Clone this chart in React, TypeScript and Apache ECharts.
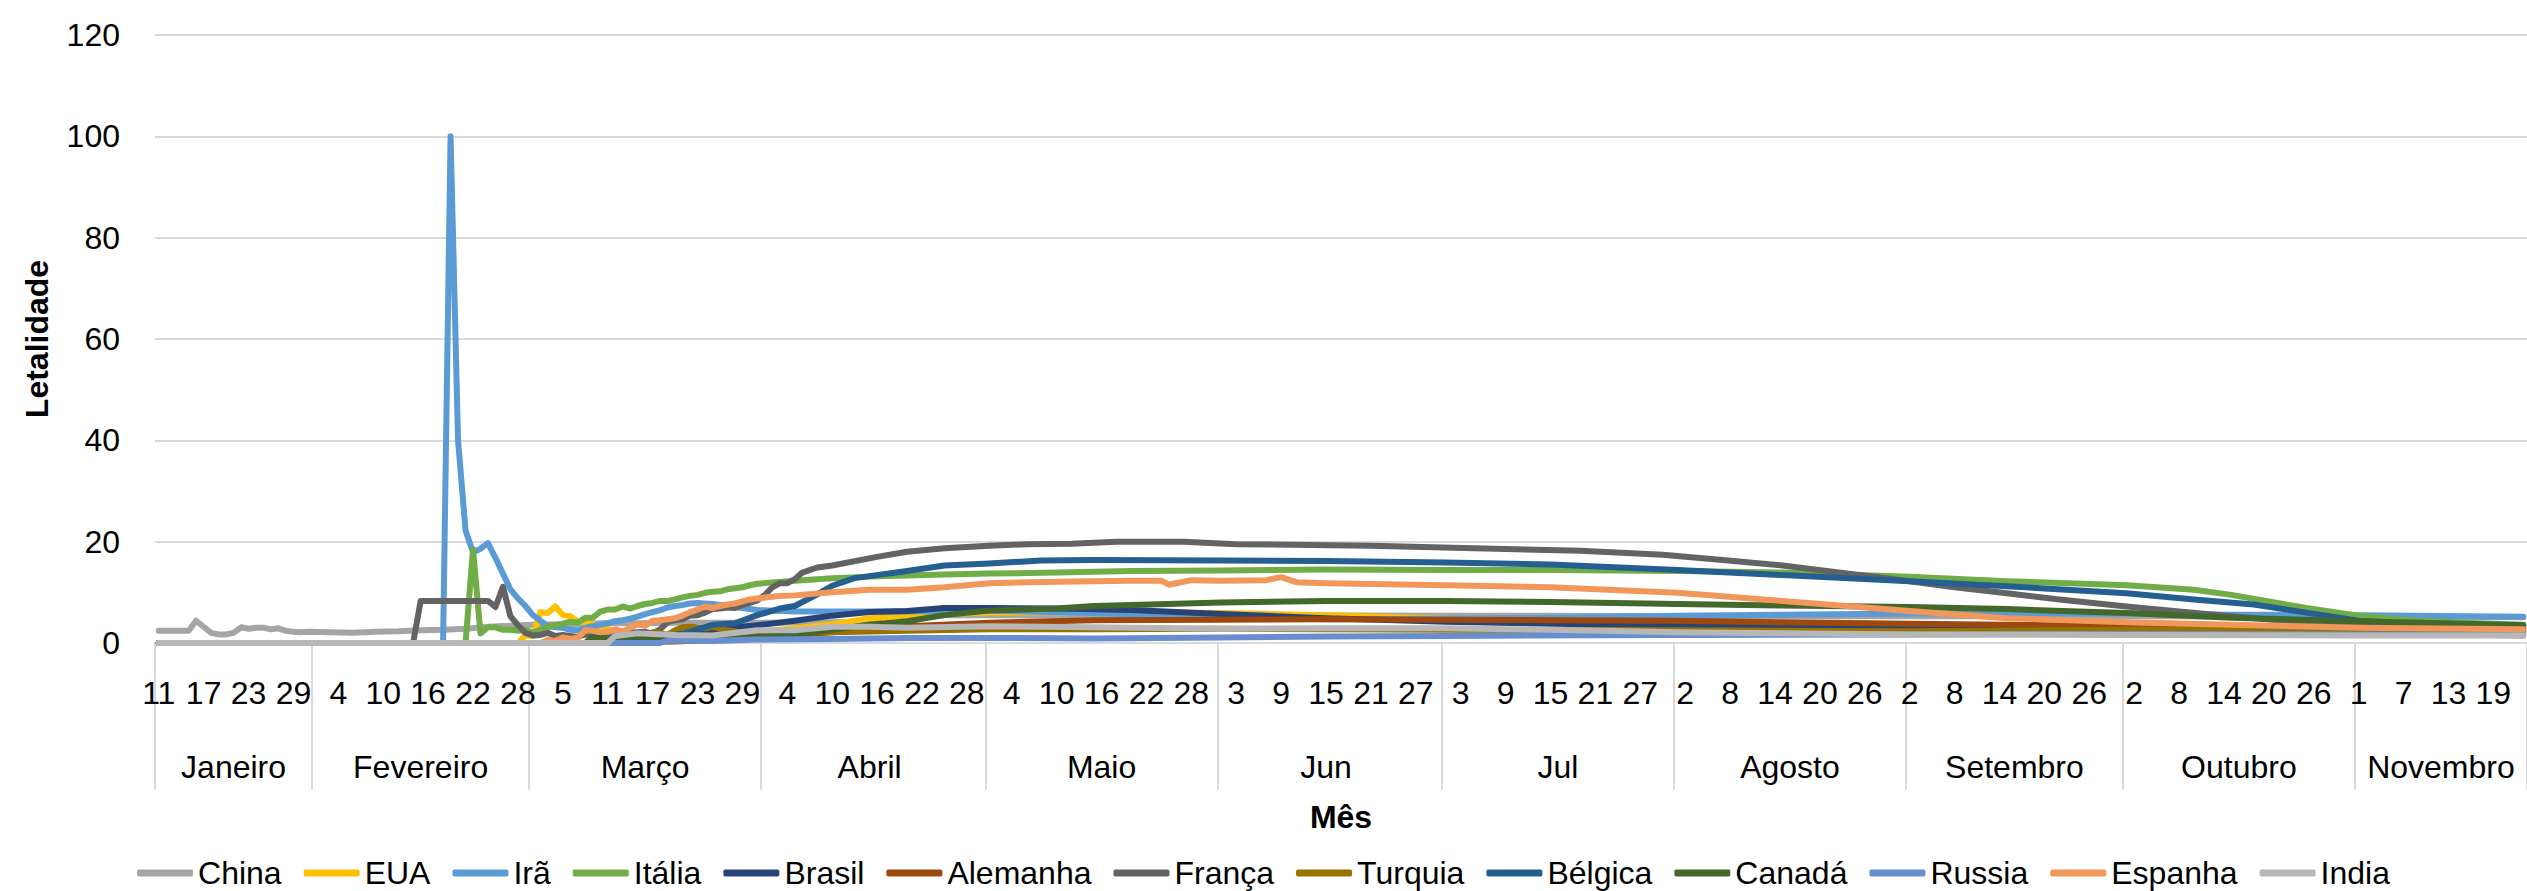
import React, { useEffect, useRef } from "react";
import * as echarts from "echarts";

// ---------- categories (one per day) ----------
const MONTH_NAMES = ["Janeiro", "Fevereiro", "Março", "Abril", "Maio", "Jun", "Jul", "Agosto", "Setembro", "Outubro", "Novembro"];
// [month number, first day, last day]
const MONTH_SPANS: [number, number, number][] = [
  [1, 11, 31], [2, 1, 29], [3, 1, 31], [4, 1, 30], [5, 1, 31], [6, 1, 30],
  [7, 1, 31], [8, 1, 31], [9, 2, 30], [10, 1, 31], [11, 1, 23],
];

const CATEGORIES: string[] = [];
const CAT_MONTH: number[] = [];
const MONTH_START = new Set<number>();
const MONTH_MID = new Set<number>();
MONTH_SPANS.forEach(([m, a, b], mi) => {
  const start = CATEGORIES.length;
  MONTH_START.add(start);
  for (let d = a; d <= b; d++) {
    CATEGORIES.push(`${m}/${d}`);
    CAT_MONTH.push(mi);
  }
  const end = CATEGORIES.length - 1;
  MONTH_MID.add(Math.floor((start + end) / 2));
});
const IDX: Record<string, number> = {};
CATEGORIES.forEach((c, i) => (IDX[c] = i));

// ---------- series values (letalidade %, date -> value) ----------
const CHINA: [string, number][] = [
  ["1/11", 2.4], ["1/12", 2.4], ["1/13", 2.4], ["1/14", 2.4], ["1/15", 2.4], ["1/16", 4.4], ["1/17", 3.2], ["1/18", 2.0],
  ["1/19", 1.7], ["1/20", 1.7], ["1/21", 2.0], ["1/22", 3.1], ["1/23", 2.8], ["1/24", 3.0], ["1/25", 3.0], ["1/26", 2.7],
  ["1/27", 2.9], ["1/28", 2.4], ["1/29", 2.2], ["1/30", 2.1], ["1/31", 2.2], ["2/3", 2.1], ["2/6", 2.0], ["2/9", 2.2],
  ["2/12", 2.3], ["2/15", 2.5], ["2/18", 2.6], ["2/21", 2.8], ["2/24", 3.2], ["2/27", 3.4], ["3/1", 3.6], ["3/5", 3.7],
  ["3/10", 3.9], ["3/15", 3.9], ["3/20", 4.0], ["3/25", 4.0], ["4/1", 4.0], ["4/10", 4.1], ["4/16", 4.2], ["4/17", 5.5],
  ["5/1", 5.5], ["6/1", 5.5], ["7/1", 5.4], ["7/15", 5.4], ["8/1", 5.3], ["9/2", 5.3], ["10/1", 5.3], ["11/1", 5.2], ["11/23", 5.1],
];
const EUA: [string, number][] = [
  ["1/11", 0], ["2/28", 0], ["2/29", 1.5], ["3/1", 1.4], ["3/2", 6.1], ["3/3", 5.9], ["3/4", 7.2], ["3/5", 5.5], ["3/6", 5.3],
  ["3/7", 4.2], ["3/8", 4.1], ["3/9", 3.8], ["3/10", 2.9], ["3/11", 2.8], ["3/12", 2.4], ["3/13", 2.2], ["3/14", 2.0],
  ["3/15", 1.8], ["3/17", 1.7], ["3/19", 1.5], ["3/21", 1.3], ["3/23", 1.3], ["3/25", 1.5], ["3/28", 1.8], ["3/31", 2.2],
  ["4/5", 2.9], ["4/10", 3.7], ["4/15", 4.9], ["4/20", 5.4], ["4/25", 5.7], ["5/1", 6.0], ["5/15", 6.1], ["6/1", 5.9],
  ["6/15", 5.5], ["7/1", 4.8], ["7/15", 3.9], ["8/1", 3.3], ["8/15", 3.2], ["9/2", 3.0], ["9/15", 3.0], ["10/1", 2.9],
  ["10/15", 2.7], ["11/1", 2.5], ["11/23", 2.1],
];
const IRA: [string, number][] = [
  ["1/11", 0], ["2/18", 0], ["2/19", 100], ["2/20", 40], ["2/21", 22.2], ["2/22", 17.9], ["2/23", 18.6], ["2/24", 19.7],
  ["2/25", 16.8], ["2/26", 13.7], ["2/27", 10.6], ["2/28", 8.8], ["2/29", 7.3], ["3/1", 5.5], ["3/2", 4.4], ["3/3", 3.3],
  ["3/4", 3.1], ["3/5", 3.0], ["3/6", 2.6], ["3/7", 2.5], ["3/8", 3.0], ["3/9", 3.3], ["3/10", 3.6], ["3/11", 3.9],
  ["3/12", 4.3], ["3/13", 4.5], ["3/14", 4.8], ["3/15", 5.2], ["3/16", 5.7], ["3/17", 6.1], ["3/18", 6.5], ["3/19", 7.0],
  ["3/20", 7.3], ["3/21", 7.5], ["3/22", 7.8], ["3/23", 7.9], ["3/24", 7.8], ["3/25", 7.7], ["3/28", 7.1], ["3/31", 6.5],
  ["4/5", 6.2], ["4/10", 6.2], ["4/20", 6.2], ["5/1", 6.4], ["5/15", 5.9], ["6/1", 5.0], ["6/15", 4.7], ["7/1", 4.8],
  ["7/15", 5.0], ["8/1", 5.4], ["8/15", 5.6], ["9/2", 5.8], ["9/15", 5.8], ["10/1", 5.8], ["10/15", 5.6], ["11/1", 5.5], ["11/23", 5.2],
];
const ITALIA: [string, number][] = [
  ["1/11", 0], ["2/21", 0], ["2/22", 18.5], ["2/23", 1.9], ["2/24", 3.1], ["2/25", 3.1], ["2/26", 2.6], ["2/27", 2.6],
  ["2/28", 2.4], ["2/29", 2.6], ["3/1", 2.0], ["3/2", 2.6], ["3/3", 3.2], ["3/4", 3.5], ["3/5", 3.8], ["3/6", 4.2],
  ["3/7", 4.0], ["3/8", 5.0], ["3/9", 5.0], ["3/10", 6.2], ["3/11", 6.6], ["3/12", 6.6], ["3/13", 7.2], ["3/14", 6.8],
  ["3/15", 7.3], ["3/16", 7.7], ["3/17", 7.9], ["3/18", 8.3], ["3/19", 8.3], ["3/20", 8.6], ["3/21", 9.0], ["3/22", 9.3],
  ["3/23", 9.5], ["3/24", 9.9], ["3/25", 10.1], ["3/26", 10.2], ["3/27", 10.6], ["3/28", 10.8], ["3/29", 11.0], ["3/30", 11.4],
  ["3/31", 11.7], ["4/5", 12.3], ["4/10", 12.8], ["4/15", 13.1], ["4/20", 13.3], ["4/25", 13.5], ["5/1", 13.7], ["5/10", 13.9],
  ["5/20", 14.2], ["6/1", 14.3], ["6/15", 14.5], ["7/1", 14.4], ["7/15", 14.4], ["8/1", 14.2], ["8/15", 13.9], ["9/2", 13.1],
  ["9/15", 12.2], ["10/1", 11.4], ["10/10", 10.5], ["10/15", 9.5], ["10/20", 8.2], ["10/25", 6.9], ["11/1", 5.4],
  ["11/8", 4.5], ["11/15", 4.0], ["11/23", 3.6],
];
const BRASIL: [string, number][] = [
  ["1/11", 0], ["3/16", 0], ["3/17", 0.3], ["3/18", 0.8], ["3/19", 1.0], ["3/20", 1.4], ["3/21", 1.5], ["3/22", 1.6],
  ["3/23", 1.8], ["3/24", 2.0], ["3/25", 2.3], ["3/27", 2.7], ["3/29", 3.2], ["3/31", 3.5], ["4/5", 4.4], ["4/10", 5.4],
  ["4/15", 6.1], ["4/20", 6.3], ["4/25", 6.9], ["5/1", 6.9], ["5/10", 6.8], ["5/20", 6.5], ["6/1", 5.7], ["6/15", 4.9],
  ["7/1", 4.2], ["7/15", 3.8], ["8/1", 3.5], ["8/15", 3.3], ["9/2", 3.1], ["9/15", 3.0], ["10/1", 3.0], ["10/15", 3.0],
  ["11/1", 2.9], ["11/23", 2.8],
];
const ALEMANHA: [string, number][] = [
  ["1/11", 0], ["3/8", 0], ["3/9", 0.2], ["3/15", 0.2], ["3/20", 0.3], ["3/25", 0.6], ["3/31", 1.1], ["4/5", 1.6],
  ["4/10", 2.1], ["4/15", 2.8], ["4/20", 3.3], ["5/1", 4.0], ["5/15", 4.5], ["6/1", 4.6], ["6/15", 4.7], ["7/1", 4.6],
  ["7/15", 4.5], ["8/1", 4.4], ["8/15", 4.1], ["9/2", 3.8], ["9/15", 3.6], ["10/1", 3.3], ["10/15", 2.8], ["11/1", 2.0], ["11/23", 1.5],
];
const FRANCA: [string, number][] = [
  ["1/11", 0], ["2/14", 0], ["2/15", 8.3], ["2/24", 8.3], ["2/25", 7.1], ["2/26", 11.1], ["2/27", 5.3], ["2/28", 3.5],
  ["2/29", 2.0], ["3/1", 1.5], ["3/2", 1.6], ["3/3", 2.0], ["3/4", 1.4], ["3/5", 1.6], ["3/6", 1.4], ["3/7", 1.2],
  ["3/8", 1.7], ["3/9", 1.6], ["3/10", 1.8], ["3/11", 2.1], ["3/13", 2.2], ["3/14", 2.0], ["3/16", 2.2], ["3/17", 1.9],
  ["3/18", 2.7], ["3/19", 4.1], ["3/20", 4.5], ["3/21", 4.7], ["3/22", 5.4], ["3/23", 5.5], ["3/24", 6.0], ["3/25", 6.7],
  ["3/26", 6.8], ["3/27", 7.0], ["3/28", 6.9], ["3/29", 7.5], ["3/30", 7.9], ["3/31", 8.4], ["4/1", 9.5], ["4/2", 11.0],
  ["4/3", 11.8], ["4/4", 11.8], ["4/5", 12.6], ["4/6", 13.9], ["4/8", 14.9], ["4/10", 15.3], ["4/16", 17.0], ["4/20", 18.0],
  ["4/25", 18.7], ["5/1", 19.2], ["5/6", 19.5], ["5/12", 19.6], ["5/18", 20.0], ["5/27", 20.0], ["6/3", 19.5], ["6/21", 19.2],
  ["7/2", 18.8], ["7/19", 18.2], ["7/30", 17.4], ["8/7", 16.4], ["8/15", 15.3], ["8/22", 14.0], ["9/2", 12.2], ["9/8", 11.0],
  ["9/15", 9.8], ["9/22", 8.6], ["10/1", 7.2], ["10/8", 6.2], ["10/15", 5.3], ["10/22", 4.4], ["11/1", 3.4], ["11/8", 2.9],
  ["11/15", 2.6], ["11/23", 2.4],
];
const TURQUIA: [string, number][] = [
  ["1/11", 0], ["3/16", 0], ["3/17", 2.1], ["3/18", 2.0], ["3/19", 1.6], ["3/20", 2.5], ["3/21", 3.1], ["3/22", 3.2],
  ["3/23", 3.0], ["3/24", 2.9], ["3/25", 3.2], ["3/27", 2.5], ["3/29", 2.1], ["3/31", 1.6], ["4/5", 2.1], ["4/10", 2.1],
  ["4/20", 2.4], ["5/1", 2.7], ["5/15", 2.7], ["6/1", 2.8], ["7/1", 2.6], ["8/1", 2.5], ["9/2", 2.3], ["10/1", 2.6],
  ["11/1", 2.8], ["11/23", 2.9],
];
const BELGICA: [string, number][] = [
  ["1/11", 0], ["3/10", 0], ["3/11", 1.0], ["3/13", 0.5], ["3/15", 0.5], ["3/18", 0.9], ["3/20", 1.6], ["3/22", 2.2],
  ["3/25", 3.6], ["3/28", 3.9], ["3/31", 5.5], ["4/3", 6.8], ["4/5", 7.3], ["4/8", 9.6], ["4/10", 11.3], ["4/13", 12.8],
  ["4/15", 13.2], ["4/20", 14.2], ["4/25", 15.3], ["5/1", 15.7], ["5/8", 16.3], ["5/15", 16.4], ["6/1", 16.3], ["6/15", 16.2],
  ["7/1", 15.9], ["7/15", 15.5], ["8/1", 14.4], ["8/15", 13.4], ["9/2", 12.2], ["9/15", 11.2], ["10/1", 9.8], ["10/10", 8.6],
  ["10/18", 7.6], ["10/25", 6.0], ["11/1", 4.4], ["11/10", 3.6], ["11/23", 3.0],
];
const CANADA: [string, number][] = [
  ["1/11", 0], ["3/8", 0], ["3/9", 1.3], ["3/12", 0.9], ["3/16", 0.9], ["3/20", 1.3], ["3/25", 0.8], ["3/31", 1.2],
  ["4/5", 1.6], ["4/10", 2.6], ["4/15", 3.6], ["4/20", 4.3], ["4/25", 5.5], ["5/1", 6.4], ["5/10", 6.8], ["5/15", 7.3],
  ["5/20", 7.5], ["6/1", 8.0], ["6/15", 8.3], ["7/1", 8.3], ["7/15", 8.1], ["8/1", 7.7], ["8/15", 7.4], ["9/2", 7.1],
  ["9/15", 6.7], ["10/1", 5.9], ["10/15", 5.0], ["11/1", 4.3], ["11/23", 3.5],
];
const RUSSIA: [string, number][] = [
  ["1/11", 0], ["3/18", 0], ["3/19", 0.5], ["3/25", 0.4], ["3/31", 0.7], ["4/10", 0.8], ["4/20", 1.0], ["5/1", 1.0],
  ["5/15", 0.9], ["6/1", 1.1], ["6/15", 1.3], ["7/1", 1.4], ["8/1", 1.6], ["9/2", 1.7], ["10/1", 1.8], ["11/1", 1.7], ["11/23", 1.7],
];
const ESPANHA: [string, number][] = [
  ["1/11", 0], ["3/2", 0], ["3/3", 0.6], ["3/4", 0.4], ["3/5", 1.1], ["3/6", 0.8], ["3/7", 1.0], ["3/8", 2.5], ["3/9", 2.4],
  ["3/10", 2.1], ["3/11", 2.2], ["3/12", 2.7], ["3/13", 2.3], ["3/14", 3.0], ["3/15", 3.7], ["3/16", 3.4], ["3/17", 4.4],
  ["3/18", 4.5], ["3/19", 4.7], ["3/20", 4.9], ["3/21", 5.4], ["3/22", 6.1], ["3/23", 6.6], ["3/24", 7.2], ["3/25", 6.9],
  ["3/26", 7.3], ["3/27", 7.6], ["3/28", 7.8], ["3/29", 8.2], ["3/30", 8.6], ["3/31", 8.8], ["4/3", 9.3], ["4/5", 9.4],
  ["4/10", 10.0], ["4/15", 10.5], ["4/20", 10.5], ["4/25", 11.0], ["5/1", 11.8], ["5/10", 12.1], ["5/20", 12.3], ["5/24", 12.3],
  ["5/25", 11.5], ["5/28", 12.4], ["6/1", 12.3], ["6/7", 12.4], ["6/9", 13.0], ["6/11", 12.0], ["6/15", 11.8], ["7/1", 11.4],
  ["7/15", 11.0], ["8/1", 9.9], ["8/15", 8.3], ["9/2", 6.3], ["9/15", 4.9], ["10/1", 4.1], ["10/15", 3.6], ["11/1", 3.0], ["11/23", 2.7],
];
const INDIA: [string, number][] = [
  ["1/11", 0], ["3/11", 0], ["3/12", 1.4], ["3/15", 1.9], ["3/20", 1.6], ["3/25", 1.5], ["3/31", 2.5], ["4/5", 2.5],
  ["4/10", 3.2], ["4/15", 3.2], ["4/20", 3.0], ["5/1", 3.3], ["5/15", 3.1], ["6/1", 2.8], ["6/15", 2.9], ["7/1", 2.9],
  ["7/15", 2.6], ["8/1", 2.1], ["8/15", 1.9], ["9/2", 1.7], ["10/1", 1.6], ["11/1", 1.5], ["11/23", 1.5],
];

const SERIES_NAMES = ["China", "EUA", "Irã", "Itália", "Brasil", "Alemanha", "França", "Turquia", "Bélgica", "Canadá", "Russia", "Espanha", "India"];
const SERIES_VALUES = [CHINA, EUA, IRA, ITALIA, BRASIL, ALEMANHA, FRANCA, TURQUIA, BELGICA, CANADA, RUSSIA, ESPANHA, INDIA];
const SERIES_COLORS = ["#A5A5A5", "#FFC000", "#5B9BD5", "#70AD47", "#264478", "#9E480E", "#636363", "#997300", "#255E91", "#43682B", "#698ED0", "#F1975A", "#B7B7B7"];

const Y_TICKS = { min: 0, max: 120, interval: 20 };
const FONT = "'Liberation Sans', Arial, sans-serif";

export default function App() {
  const ref = useRef<HTMLDivElement>(null);
  useEffect(() => {
    document.body.style.margin = "0";
    const chart = echarts.init(ref.current!, undefined, { renderer: "svg" });
    const option: any = {
      animation: false,
      backgroundColor: "#ffffff",
      textStyle: { fontFamily: FONT },
      grid: { left: 155, right: 0, top: 35, bottom: 248, containLabel: false },
      legend: {
        data: SERIES_NAMES,
        top: 852,
        left: "center",
        icon: "roundRect",
        itemWidth: 56,
        itemHeight: 7,
        itemGap: 22,
        textStyle: { fontSize: 32, color: "#000", fontFamily: FONT },
      },
      xAxis: [
        {
          type: "category",
          data: CATEGORIES,
          position: "bottom",
          boundaryGap: true,
          axisLine: { show: true, lineStyle: { color: "#D9D9D9", width: 2 } },
          axisTick: { show: false },
          axisLabel: {
            interval: 5,
            formatter: (v: string) => v.split("/")[1],
            fontSize: 32,
            color: "#000",
            margin: 34,
            fontFamily: FONT,
          },
          splitLine: { show: false },
        },
        {
          type: "category",
          data: CATEGORIES,
          position: "bottom",
          offset: 0,
          boundaryGap: true,
          axisLine: { show: false },
          axisTick: {
            show: true,
            interval: (i: number) => MONTH_START.has(i),
            length: 147,
            lineStyle: { color: "#D9D9D9", width: 2 },
          },
          axisLabel: {
            interval: (i: number) => MONTH_MID.has(i),
            formatter: (_v: string, i: number) => MONTH_NAMES[CAT_MONTH[i]],
            fontSize: 32,
            color: "#000",
            margin: 108,
            fontFamily: FONT,
          },
          name: "Mês",
          nameLocation: "middle",
          nameGap: 158,
          nameTextStyle: { fontSize: 32, fontWeight: "bold", color: "#000", fontFamily: FONT },
          splitLine: { show: false },
        },
      ],
      yAxis: {
        type: "value",
        min: Y_TICKS.min,
        max: Y_TICKS.max,
        interval: Y_TICKS.interval,
        axisLine: { show: false },
        axisTick: { show: false },
        axisLabel: { fontSize: 32, color: "#000", margin: 35, fontFamily: FONT },
        splitLine: { lineStyle: { color: "#D9D9D9", width: 2 } },
        name: "Letalidade",
        nameLocation: "middle",
        nameRotate: 90,
        nameGap: 102,
        nameTextStyle: { fontSize: 32, fontWeight: "bold", color: "#000", fontFamily: FONT },
      },
      series: SERIES_NAMES.map((name, k) => ({
        name,
        type: "line",
        xAxisIndex: 0,
        symbol: "none",
        showSymbol: false,
        color: SERIES_COLORS[k],
        lineStyle: { width: 6, color: SERIES_COLORS[k], cap: "round", join: "round" },
        data: SERIES_VALUES[k].map(([d, v]) => [IDX[d], v]),
      })),
    };
    chart.setOption(option);
    return () => chart.dispose();
  }, []);
  return <div ref={ref} style={{ width: 2527, height: 891, background: "#fff" }} />;
}
